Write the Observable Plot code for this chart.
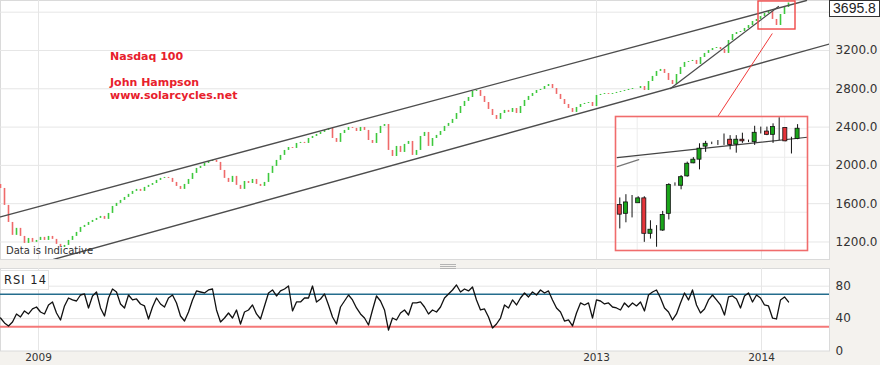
<!DOCTYPE html>
<html><head><meta charset="utf-8">
<script src="https://cdn.jsdelivr.net/npm/d3@7"></script>
<script src="https://cdn.jsdelivr.net/npm/@observablehq/plot@0.6"></script>
<style>
body{margin:0;background:#f4f2ee;}
#wrap{position:relative;width:880px;height:365px;overflow:hidden;background:#f4f2ee;font-family:"DejaVu Sans",sans-serif;}
#wrap > *{position:absolute;}
</style></head><body><div id="wrap"></div>
<script>
// ---------------- data ----------------
const firstOpen = 1800;
const closes = [
1759,1582,1404,1269,1342,1258,1185,1237,1196,1216,
1248,1216,1258,1227,1175,1143,1164,1216,1258,1300,
1352,1373,1404,1425,1446,1467,1436,1498,1571,1603,
1634,1665,1697,1728,1749,1728,1770,1791,1811,1843,
1864,1874,1864,1822,1780,1749,1801,1853,1916,1968,
1989,2020,2041,2052,2031,1947,1864,1822,1885,1791,
1749,1832,1811,1853,1801,1780,1822,1916,1989,2052,
2104,2156,2187,2177,2229,2240,2229,2281,2302,2323,
2344,2365,2386,2281,2240,2333,2365,2396,2386,2354,
2396,2365,2260,2229,2333,2407,2427,2156,2093,2198,
2135,2219,2250,2104,2156,2302,2344,2198,2281,2313,
2354,2407,2438,2480,2542,2615,2668,2709,2772,2782,
2720,2657,2584,2521,2480,2542,2574,2553,2594,2542,
2615,2678,2720,2751,2782,2793,2824,2845,2803,2741,
2688,2636,2594,2553,2605,2636,2647,2657,2615,2730,
2741,2751,2741,2751,2762,2772,2782,2793,2803,2803,
2824,2782,2876,2929,2981,3002,2960,2887,2845,2949,
3023,3075,3085,3096,3054,3127,3169,3200,3221,3231,
3210,3169,3304,3367,3388,3398,3430,3461,3503,3524,
3555,3586,3607,3524,3461,3576,3649,3695.8];

const rsi14 = [
40.7,34.6,30.9,35.8,45.7,42.0,49.4,45.7,51.9,54.3,
48.1,45.7,56.8,60.5,46.9,38.3,55.6,65.4,63.0,61.7,
69.1,70.4,53.1,67.9,72.8,53.1,43.2,65.4,76.5,72.8,
58.0,53.1,69.1,63.0,64.2,58.0,55.6,39.5,54.3,65.4,
58.0,54.3,65.4,69.1,59.3,43.2,37.0,48.1,63.0,74.1,
72.8,71.6,75.3,76.5,50.6,35.8,40.7,46.9,40.7,50.6,
33.3,48.1,50.6,56.8,45.7,39.5,55.6,71.6,75.3,67.9,
74.1,76.5,80.2,49.4,60.5,60.5,65.4,65.4,80.2,60.5,
64.2,70.4,56.8,42.0,33.3,54.3,61.7,69.1,63.0,53.1,
45.7,40.7,32.1,50.6,67.9,61.7,50.6,25.9,40.7,38.3,
46.9,50.6,44.4,59.3,59.3,60.5,54.3,45.7,50.6,48.1,
54.3,65.4,70.4,75.3,81.5,72.8,76.5,74.1,79.0,63.0,
50.6,51.9,42.0,28.4,33.3,40.7,56.8,53.1,63.0,56.8,
65.4,71.6,66.7,72.8,69.1,75.3,71.6,74.1,63.0,53.1,
48.1,37.0,38.3,30.9,46.9,59.3,56.8,59.3,40.7,63.0,
61.7,58.0,59.3,54.3,53.1,50.6,59.3,54.3,59.3,55.6,
60.5,49.4,69.1,72.8,75.3,65.4,53.1,48.1,38.3,45.7,
59.3,71.6,63.0,75.3,56.8,46.9,51.9,63.0,69.1,63.0,
56.8,44.4,66.7,67.9,64.2,53.1,67.9,71.6,60.5,69.1,
65.4,56.8,55.6,40.7,39.5,63.0,66.7,60.5];

const xTickBars = [9.5, 149, 190.25];
const xTickLabels = ["2009", "2013", "2014"];
const priceGrid = [1200, 1600, 2000, 2400, 2800, 3200, 3600];
const priceLabels = [1200, 1600, 2000, 2400, 2800, 3200];   // 3600.0 is hidden under the last-price box
const rsiTicks = [0, 40, 80];
const rsiGrid = [40, 80];
const rsiUpper = 70, rsiLower = 30;

// trend lines (bar index, price)
const channelUpper = [{i: 0, p: 1462}, {i: 201.5, p: 3722}];
const channelLower = [{i: 13.25, p: 1018}, {i: 207.25, p: 3268}];
const steepSupport = [{i: 167.5, p: 2803}, {i: 194.5, p: 3659}];
const zoomBox = [{i1: 189.5, i2: 198.75, p1: 3419, p2: 3712}];
const zoomLink = [{i: 192.9, p: 3374}, {i: 179, p: 2490}];

// inset (daily candles)
const insetOpen  = [3524,3502,3531,3528,3540,3453,3463,3461,3502,3573,3571,3594,3626,3635,3667,3675,3676,3682,3684,3672,3684,3680,3678,3702,3704,3696,3715,3713,3684,3686];
const insetClose = [3500,3530,3531,3540,3453,3463,3463,3499,3573,3573,3592,3625,3635,3662,3674,3675,3676,3682,3671,3684,3680,3680,3701,3702,3696,3715,3715,3680,3684,3711];
const insetHigh  = [3541,3549,3547,3544,3544,3485,3473,3508,3576,3578,3596,3629,3640,3674,3680,3678,3682,3698,3694,3694,3700,3683,3717,3715,3715,3723,3738,3713,3690,3721];
const insetLow   = [3465,3480,3492,3528,3432,3440,3420,3459,3487,3570,3561,3592,3625,3610,3653,3672,3670,3670,3659,3651,3675,3677,3670,3698,3694,3675,3682,3679,3649,3684];
const insetLineLong  = [{i: -0.42, p: 3640}, {i: 30.6, p: 3690}];
const insetLineShort = [{i: -0.42, p: 3618}, {i: 3.1, p: 3635}];
const insetGridX = [2.84, 23.2, 26.9];
const insetGridY = [3432, 3506, 3571, 3641, 3711];

const lastPrice = closes[closes.length - 1];

// ---------------- build ----------------
const wrap = document.getElementById("wrap");
const xDomain = [0, 207.25];
const UP = "#3ec83e", DOWN = "#ef6a6a", GRID = "#e6e6e6";
const bars = closes.map((c, i) => ({i, open: i ? closes[i - 1] : firstOpen, close: c}));
const labelOf = d => xTickLabels[xTickBars.indexOf(d)];

const main = Plot.plot({
  width: 880, height: 259,
  marginTop: 0, marginBottom: 0, marginLeft: 0, marginRight: 51,
  x: {domain: xDomain, axis: null},
  y: {domain: [1017, 3722], axis: null},
  color: {type: "identity"},
  style: {background: "transparent", fontFamily: "DejaVu Sans", fontSize: "12px", color: "#333", overflow: "visible"},
  marks: [
    Plot.frame({fill: "white", stroke: "#dadada"}),
    Plot.gridY(priceGrid, {stroke: GRID, strokeOpacity: 1}),
    Plot.gridX(xTickBars, {stroke: GRID, strokeOpacity: 1}),
    Plot.ruleX(bars, {x: "i", y1: "open", y2: "close", stroke: d => d.close >= d.open ? UP : DOWN, strokeWidth: 1.6}),
    Plot.line(channelUpper, {x: "i", y: "p", stroke: "#4d4d4d", strokeWidth: 1.4, clip: true}),
    Plot.line(channelLower, {x: "i", y: "p", stroke: "#4d4d4d", strokeWidth: 1.4, clip: true}),
    Plot.line(steepSupport, {x: "i", y: "p", stroke: "#4d4d4d", strokeWidth: 1.3, clip: true}),
    Plot.rect(zoomBox, {x1: "i1", x2: "i2", y1: "p1", y2: "p2", fill: "none", stroke: "#f04848", strokeWidth: 1.4}),
    Plot.line(zoomLink, {x: "i", y: "p", stroke: "#f03a3a", strokeWidth: 1}),
    Plot.axisY(priceLabels, {anchor: "right", tickSize: 0, tickPadding: 6, tickFormat: d => d.toFixed(1), fontSize: 12})
  ]
});
main.style.left = "0px"; main.style.top = "0px";
wrap.appendChild(main);

const rsiPlot = Plot.plot({
  width: 880, height: 97,
  marginTop: 0, marginBottom: 14.5, marginLeft: 0, marginRight: 51,
  x: {domain: xDomain, axis: null},
  y: {domain: [0, 101.8], axis: null},
  style: {background: "transparent", fontFamily: "DejaVu Sans", fontSize: "12px", color: "#333", overflow: "visible"},
  marks: [
    Plot.frame({fill: "white", stroke: "#dadada"}),
    Plot.gridY(rsiGrid, {stroke: GRID, strokeOpacity: 1}),
    Plot.gridX(xTickBars, {stroke: GRID, strokeOpacity: 1}),
    Plot.ruleY([rsiUpper], {stroke: "#246d8d", strokeWidth: 1.5}),
    Plot.ruleY([rsiLower], {stroke: "#f47878", strokeWidth: 2}),
    Plot.line(rsi14, {x: (d, i) => i, y: d => d, stroke: "#111", strokeWidth: 1.3}),
    Plot.axisY(rsiTicks, {anchor: "right", tickSize: 0, tickPadding: 6, fontSize: 12}),
    Plot.axisX(xTickBars, {anchor: "bottom", tickSize: 0, tickPadding: 3, tickFormat: labelOf, fontSize: 10.5})
  ]
});
rsiPlot.style.left = "0px"; rsiPlot.style.top = "268px";
wrap.appendChild(rsiPlot);

const insetBars = insetOpen.map((o, i) => ({i, open: o, close: insetClose[i], high: insetHigh[i], low: insetLow[i]}));
const candleFill = d => d.close > d.open ? "#1aa51a" : d.close < d.open ? "#e5343a" : "#111";
const inset = Plot.plot({
  width: 192, height: 134, margin: 0,
  x: {domain: [-0.70, 30.62], axis: null},
  y: {domain: [3412, 3741], axis: null},
  color: {type: "identity"},
  style: {background: "transparent", overflow: "visible"},
  marks: [
    Plot.frame({fill: "white"}),
    Plot.gridX(insetGridX, {stroke: "#ececec", strokeOpacity: 1}),
    Plot.gridY(insetGridY, {stroke: "#ececec", strokeOpacity: 1}),
    Plot.line(insetLineShort, {x: "i", y: "p", stroke: "#777", strokeWidth: 1.2}),
    Plot.line(insetLineLong, {x: "i", y: "p", stroke: "#444", strokeWidth: 1.2}),
    Plot.ruleX(insetBars, {x: "i", y1: "low", y2: "high", stroke: "#111", strokeWidth: 1}),
    Plot.rect(insetBars, {x1: d => d.i - 0.33, x2: d => d.i + 0.33, y1: "open", y2: "close", fill: candleFill, stroke: "#111", strokeWidth: 0.8}),
    Plot.frame({stroke: "#f06c6c", strokeWidth: 1.6})
  ]
});
inset.style.left = "615px"; inset.style.top = "116px";
wrap.appendChild(inset);

// overlay annotations
const ns = "http://www.w3.org/2000/svg";
const ov = document.createElementNS(ns, "svg");
ov.setAttribute("width", 880); ov.setAttribute("height", 365);
ov.style.left = "0px"; ov.style.top = "0px"; ov.style.pointerEvents = "none";
const addText = (txt, x, y, attrs) => {
  const t = document.createElementNS(ns, "text");
  t.setAttribute("x", x); t.setAttribute("y", y);
  for (const k in attrs) t.setAttribute(k, attrs[k]);
  t.textContent = txt; ov.appendChild(t);
};
const red = {fill: "#e8202c", "font-family": "DejaVu Sans", "font-weight": "bold", "font-size": 11};
addText("Nasdaq 100", 110, 60, red);
addText("John Hampson", 110, 86, red);
addText("www.solarcycles.net", 110, 99, red);
addText("Data is Indicative", 6, 254, {fill: "#333", "font-family": "DejaVu Sans", "font-size": 10});
wrap.appendChild(ov);

// RSI label box
const rl = document.createElement("div");
Object.assign(rl.style, {left: "0px", top: "270px", width: "49px", height: "20px", boxSizing: "border-box",
  background: "white", border: "1px solid #e2e2e2", font: "11.5px 'DejaVu Sans'", color: "#222",
  letterSpacing: "1px", lineHeight: "18px", paddingLeft: "3px"});
rl.textContent = "RSI 14";
wrap.appendChild(rl);

// splitter handle
[264, 266, 268].forEach(y => {
  const h = document.createElement("div");
  Object.assign(h.style, {left: "440px", top: y + "px", width: "16px", height: "1px", background: "#b4b4b4"});
  wrap.appendChild(h);
});

// last price box
const pb = document.createElement("div");
Object.assign(pb.style, {left: "829px", top: "0px", width: "51px", height: "17px", boxSizing: "border-box",
  background: "white", border: "1px solid #333", font: "14px 'Liberation Sans', Arial, sans-serif",
  color: "#222", lineHeight: "15px", textAlign: "center"});
pb.textContent = lastPrice.toFixed(1);
wrap.appendChild(pb);
</script></body></html>
